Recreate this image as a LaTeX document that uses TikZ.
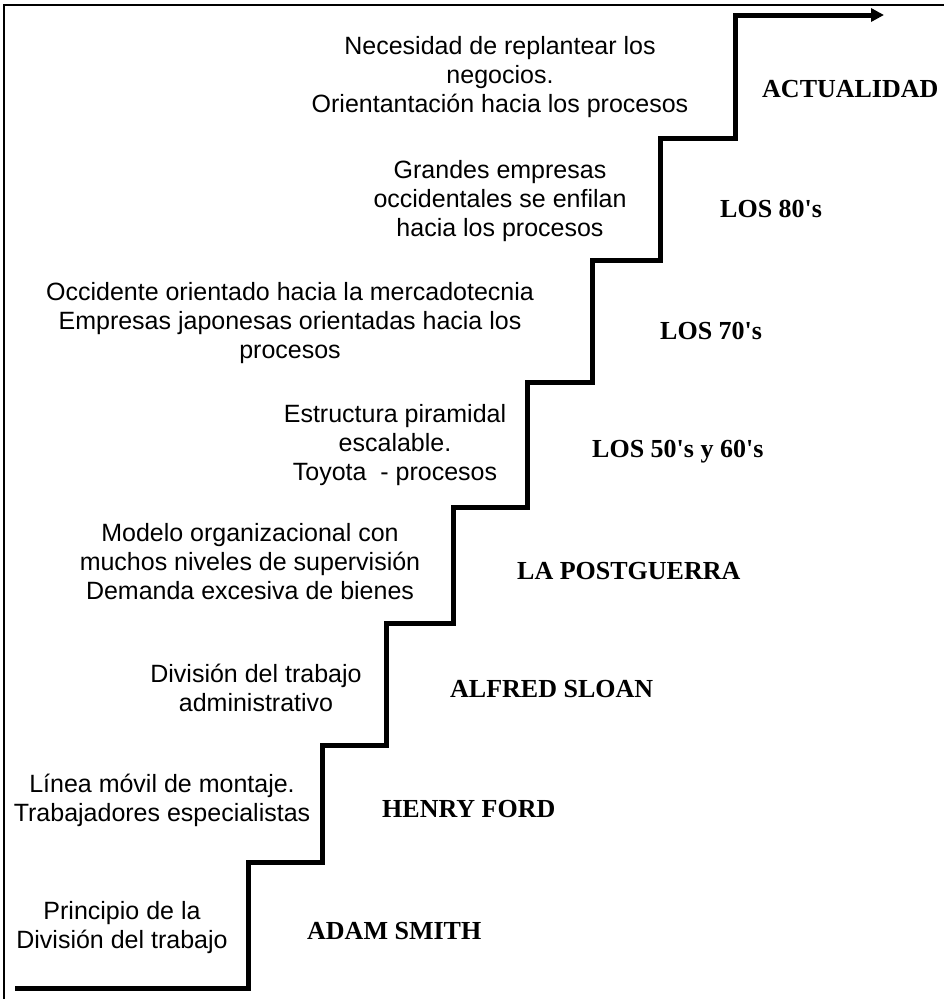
\documentclass[tikz,border=0pt]{standalone}
\usepackage{fontspec}
\setmainfont{Liberation Sans}
\newfontfamily\erafont{Liberation Serif}
\usetikzlibrary{arrows.meta}
\begin{document}
\begin{tikzpicture}[x=1pt,y=-1pt,
  desc/.style={font=\fontsize{25}{29}\selectfont, align=center, inner sep=0pt},
  era/.style={font=\erafont\bfseries\fontsize{26}{30}\selectfont, anchor=base west, inner sep=0pt},
  stair/.style={line width=5pt, line join=miter},
  frameline/.style={line width=1.6pt}]
\useasboundingbox (0,0) rectangle (944,999);
\fill[white] (0,0) rectangle (944,999);

% open frame: top and left edges
\draw[frameline] (944,5) -- (4,5) -- (4,999);

% step corners of the staircase
\coordinate (p0) at (15,988);
\coordinate (p1) at (248,988);
\coordinate (p2) at (248,862);
\coordinate (p3) at (322,862);
\coordinate (p4) at (322,745);
\coordinate (p5) at (386,745);
\coordinate (p6) at (386,623);
\coordinate (p7) at (453,623);
\coordinate (p8) at (453,507);
\coordinate (p9) at (527,507);
\coordinate (p10) at (527,382);
\coordinate (p11) at (592,382);
\coordinate (p12) at (592,260);
\coordinate (p13) at (660,260);
\coordinate (p14) at (660,138);
\coordinate (p15) at (735,138);
\coordinate (p16) at (735,15);
\coordinate (tip) at (884,15);

\draw[stair, -{Triangle[length=13pt,width=13pt]}]
  (p0) -- (p1) -- (p2) -- (p3) -- (p4) -- (p5) -- (p6) -- (p7) -- (p8)
  -- (p9) -- (p10) -- (p11) -- (p12) -- (p13) -- (p14) -- (p15) -- (p16) -- (tip);

% descriptions on each step
\node[desc] (d8) at (500,77) {Necesidad de replantear los\\negocios.\\Orientantación hacia los procesos};
\node[desc] (d7) at (500,201) {Grandes empresas\\occidentales se enfilan\\hacia los procesos};
\node[desc] (d6) at (290,323) {Occidente orientado hacia la mercadotecnia\\Empresas japonesas orientadas hacia los\\procesos};
\node[desc] (d5) at (395,445) {Estructura piramidal\\escalable.\\Toyota\ \ - procesos};
\node[desc] (d4) at (250,562) {Modelo organizacional con\\muchos niveles de supervisión\\Demanda excesiva de bienes};
\node[desc] (d3) at (256,688) {División del trabajo\\administrativo};
\node[desc] (d2) at (162,800) {Línea móvil de montaje.\\Trabajadores especialistas};
\node[desc] (d1) at (122,928) {Principio de la\\División del trabajo};

% era labels
\node[era] (e8) at (762,97) {ACTUALIDAD};
\node[era] (e7) at (720,217) {LOS 80's};
\node[era] (e6) at (660,339) {LOS 70's};
\node[era] (e5) at (592,457) {LOS 50's y 60's};
\node[era] (e4) at (517,579) {LA POSTGUERRA};
\node[era] (e3) at (450,697) {ALFRED SLOAN};
\node[era] (e2) at (382,817) {HENRY FORD};
\node[era] (e1) at (307,939) {ADAM SMITH};
\end{tikzpicture}
\end{document}
